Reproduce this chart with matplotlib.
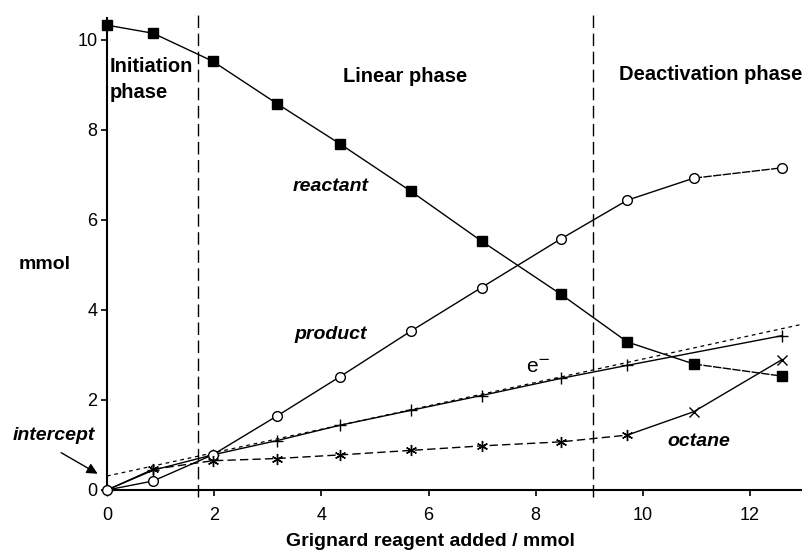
import matplotlib
matplotlib.use("Agg")
import matplotlib.pyplot as plt

plt.rcParams['font.family'] = ['Liberation Sans', 'DejaVu Sans']

# Grignard reagent added / mmol
grignard = [0, 0.86, 1.97, 3.18, 4.35, 5.67, 6.99, 8.47, 9.71, 10.95, 12.6]
reactant = [10.33, 10.15, 9.53, 8.58, 7.69, 6.64, 5.53, 4.35, 3.29, 2.80, 2.53]
product = [0, 0.20, 0.78, 1.65, 2.52, 3.53, 4.50, 5.58, 6.44, 6.93, 7.16]
octane = [0, 0.46, 0.65, 0.70, 0.78, 0.88, 0.98, 1.07, 1.22, 1.74, 2.90]

e_x = [0, 0.86, 1.97, 3.18, 4.35, 5.67, 6.99, 8.47, 9.71, 12.6]
electrons = [0, 0.44, 0.78, 1.10, 1.44, 1.77, 2.10, 2.48, 2.77, 3.43]

# linear fit through e- (end points)
fit_x = [0, 13.0]
fit_y = [0.31, 3.69]

phase_bounds = [1.69, 9.07]

fig = plt.figure(figsize=(8.02, 5.56), dpi=100)
ax = fig.add_axes([107 / 802, 66 / 556, 695 / 802, 472.5 / 556])
ax.set_xlim(0, 12.97)
ax.set_ylim(0, 10.5)

for xb in phase_bounds:
    ax.plot([xb, xb], [-0.15, 10.62], color='black', lw=1.0,
            linestyle=(0, (9, 4)), clip_on=False, zorder=1)

ax.plot(fit_x, fit_y, color='black', lw=0.9, linestyle=(0, (3, 3)), zorder=2)

# reactant
ax.plot(grignard[:10], reactant[:10], color='black', lw=1.0, zorder=3, clip_on=False)
ax.plot(grignard[9:], reactant[9:], color='black', lw=1.0, linestyle=(0, (6, 1)), zorder=3)
ax.plot(grignard, reactant, 's', color='black', ms=7.5, zorder=5, clip_on=False)

# product
ax.plot(grignard[:10], product[:10], color='black', lw=1.0, zorder=3, clip_on=False)
ax.plot(grignard[9:], product[9:], color='black', lw=1.0, linestyle=(0, (6, 1)), zorder=3)
ax.plot(grignard, product, 'o', mfc='white', mec='black', mew=1.0, ms=7, zorder=5,
        clip_on=False)

# e-
ax.plot(e_x, electrons, color='black', lw=1.0, marker='+', ms=8, mew=1.0,
        zorder=4, clip_on=False)

# octane
ax.plot(grignard[:2], octane[:2], color='black', lw=1.0, zorder=3, clip_on=False)
ax.plot(grignard[1:9], octane[1:9], color='black', lw=1.0, linestyle=(0, (6, 3)), zorder=3)
ax.plot(grignard[8:], octane[8:], color='black', lw=1.0, zorder=3)
ax.plot(grignard[1:9], octane[1:9], linestyle='none', marker=(6, 2, 0), color='black',
        ms=8, mew=1.0, zorder=5)
ax.plot(grignard[9:], octane[9:], linestyle='none', marker='x', color='black',
        ms=7, mew=1.0, zorder=5, clip_on=False)

for s in ['top', 'right']:
    ax.spines[s].set_visible(False)
for s in ['left', 'bottom']:
    ax.spines[s].set_linewidth(1.5)

ax.set_xticks([0, 2, 4, 6, 8, 10, 12])
ax.set_yticks([0, 2, 4, 6, 8, 10])
ax.tick_params(axis='x', direction='out', length=4, width=1.2, pad=8, labelsize=13)
ax.tick_params(axis='y', direction='out', length=4, width=1.2, pad=3, labelsize=13)

fig.text(430 / 802, 1 - 542 / 556, 'Grignard reagent added / mmol', ha='center',
         va='center', fontsize=14, fontweight='bold')
fig.text(45 / 802, 1 - 265 / 556, 'mmol', ha='center', va='center',
         fontsize=14, fontweight='bold')

ax.text(0.05, 9.62, 'Initiation', ha='left', va='top', fontsize=14.5, fontweight='bold')
ax.text(0.05, 9.04, 'phase', ha='left', va='top', fontsize=14.5, fontweight='bold')
ax.text(5.56, 9.2, 'Linear phase', ha='center', va='center', fontsize=14.5,
        fontweight='bold')
ax.text(11.27, 9.23, 'Deactivation phase', ha='center', va='center', fontsize=14.5,
        fontweight='bold')
ax.text(4.18, 6.75, 'reactant', ha='center', va='center', fontsize=14,
        fontweight='bold', style='italic')
ax.text(4.18, 3.45, 'product', ha='center', va='center', fontsize=14,
        fontweight='bold', style='italic')
ax.text(8.04, 2.72, 'e$^{-}$', ha='center', va='center', fontsize=15)
ax.text(11.05, 1.08, 'octane', ha='center', va='center', fontsize=14,
        fontweight='bold', style='italic')
ax.text(-1.0, 1.20, 'intercept', ha='center', va='center', fontsize=14,
        fontweight='bold', style='italic', clip_on=False)
ax.annotate('', xy=(-0.13, 0.33), xytext=(-0.9, 0.86),
            arrowprops=dict(arrowstyle='-|>', color='black', lw=1.0,
                            mutation_scale=16), annotation_clip=False)

fig.savefig('out.png', dpi=100)
